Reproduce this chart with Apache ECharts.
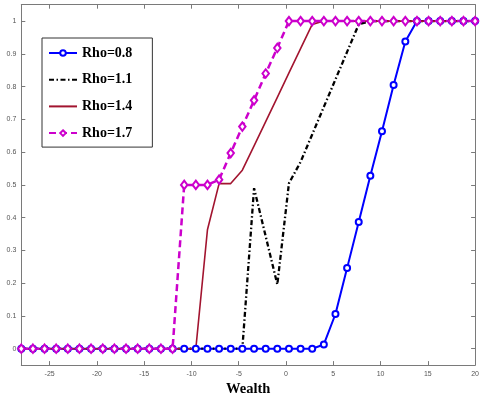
<!DOCTYPE html>
<html>
<head>
<meta charset="utf-8">
<script src="https://cdn.jsdelivr.net/npm/echarts@6/dist/echarts.min.js"></script>
<style>
  html, body { margin: 0; padding: 0; background: #fff; }
  #chart { width: 482px; height: 402px; }
</style>
</head>
<body>
<div id="chart"></div>
<script>
// Wealth grid (40 points from -28 to 20)
const wealth = [
  -28.00, -26.77, -25.54, -24.31, -23.08, -21.85, -20.62, -19.38, -18.15, -16.92,
  -15.69, -14.46, -13.23, -12.00, -10.77, -9.54, -8.31, -7.08, -5.85, -4.62,
  -3.38, -2.15, -0.92, 0.31, 1.54, 2.77, 4.00, 5.23, 6.46, 7.69,
  8.92, 10.15, 11.38, 12.62, 13.85, 15.08, 16.31, 17.54, 18.77, 20.00
];

const rho08 = [
  0, 0, 0, 0, 0, 0, 0, 0, 0, 0,
  0, 0, 0, 0, 0, 0, 0, 0, 0, 0,
  0, 0, 0, 0, 0, 0, 0.013, 0.106, 0.246, 0.387,
  0.528, 0.664, 0.805, 0.938, 1, 1, 1, 1, 1, 1
];

const rho11 = [
  0, 0, 0, 0, 0, 0, 0, 0, 0, 0,
  0, 0, 0, 0, 0, 0, 0, 0, 0, 0,
  0.49, 0.343, 0.196, 0.505, 0.57, 0.654, 0.738, 0.822, 0.906, 0.99,
  1, 1, 1, 1, 1, 1, 1, 1, 1, 1
];

const rho14 = [
  0, 0, 0, 0, 0, 0, 0, 0, 0, 0,
  0, 0, 0, 0, 0, 0, 0.363, 0.504, 0.504, 0.545,
  0.619, 0.693, 0.767, 0.842, 0.916, 0.99, 1, 1, 1, 1,
  1, 1, 1, 1, 1, 1, 1, 1, 1, 1
];

const rho17 = [
  0, 0, 0, 0, 0, 0, 0, 0, 0, 0,
  0, 0, 0, 0, 0.5, 0.5, 0.5, 0.516, 0.597, 0.678,
  0.758, 0.84, 0.918, 1, 1, 1, 1, 1, 1, 1,
  1, 1, 1, 1, 1, 1, 1, 1, 1, 1
];

const seriesNames = ['Rho=0.8', 'Rho=1.1', 'Rho=1.4', 'Rho=1.7'];
const xTicks = [-25, -20, -15, -10, -5, 0, 5, 10, 15, 20];
const yTicks = [0, 0.1, 0.2, 0.3, 0.4, 0.5, 0.6, 0.7, 0.8, 0.9, 1];

const pairs = ys => wealth.map((x, i) => [x, ys[i]]);

const axisGray = '#7a7a7a';
const tickFont = { color: '#555', fontSize: 7, fontFamily: 'Liberation Sans, Arial, sans-serif' };

const chart = echarts.init(document.getElementById('chart'), null, { renderer: 'canvas' });

chart.setOption({
  animation: false,
  backgroundColor: '#fff',
  grid: { left: 21.3, right: 3.2, top: 4.7, bottom: 34.3, containLabel: false },
  xAxis: [
    {
      type: 'value', min: -28, max: 20, position: 'bottom',
      name: 'Wealth', nameLocation: 'middle', nameGap: 14,
      nameTextStyle: { fontFamily: 'Liberation Serif, Times New Roman, serif', fontWeight: 'bold', fontSize: 14.5, color: '#000' },
      axisLine: { show: true, onZero: false, lineStyle: { color: axisGray, width: 1 } },
      axisTick: { show: true, inside: true, length: 4, customValues: xTicks, lineStyle: { color: axisGray } },
      axisLabel: { show: true, margin: 5, customValues: xTicks, ...tickFont },
      splitLine: { show: false }
    },
    {
      type: 'value', min: -28, max: 20, position: 'top',
      axisLine: { show: true, onZero: false, lineStyle: { color: axisGray, width: 1 } },
      axisTick: { show: true, inside: true, length: 4, customValues: xTicks, lineStyle: { color: axisGray } },
      axisLabel: { show: false },
      splitLine: { show: false }
    }
  ],
  yAxis: [
    {
      type: 'value', min: -0.05, max: 1.05, position: 'left',
      axisLine: { show: true, onZero: false, lineStyle: { color: axisGray, width: 1 } },
      axisTick: { show: true, inside: true, length: 4, customValues: yTicks, lineStyle: { color: axisGray } },
      axisLabel: { show: true, margin: 5, customValues: yTicks, ...tickFont },
      splitLine: { show: false }
    },
    {
      type: 'value', min: -0.05, max: 1.05, position: 'right',
      axisLine: { show: true, onZero: false, lineStyle: { color: axisGray, width: 1 } },
      axisTick: { show: true, inside: true, length: 4, customValues: yTicks, lineStyle: { color: axisGray } },
      axisLabel: { show: false },
      splitLine: { show: false }
    }
  ],
  legend: {
    orient: 'vertical',
    left: 42, top: 38,
    padding: [8, 20, 7, 6],
    itemWidth: 28, itemHeight: 7, itemGap: 12.7,
    backgroundColor: '#fff',
    borderColor: '#333', borderWidth: 1,
    textStyle: { fontFamily: 'Liberation Serif, Times New Roman, serif', fontWeight: 'bold', fontSize: 14, lineHeight: 14, color: '#000' },
    data: [
      { name: seriesNames[0] },
      { name: seriesNames[1], itemStyle: { opacity: 0 } },
      { name: seriesNames[2], itemStyle: { opacity: 0 } },
      { name: seriesNames[3] }
    ]
  },
  series: [
    {
      name: seriesNames[0], type: 'line', data: pairs(rho08), clip: false,
      symbol: 'emptyCircle', symbolSize: 6,
      lineStyle: { color: '#0000ff', width: 2 },
      itemStyle: { color: '#0000ff', borderWidth: 1.6 }
    },
    {
      name: seriesNames[1], type: 'line', data: pairs(rho11), clip: false,
      symbol: 'none', showSymbol: false,
      lineStyle: { color: '#000', width: 2.3, type: [5, 2.5, 1.5, 2.5] },
      itemStyle: { color: '#000' }
    },
    {
      name: seriesNames[2], type: 'line', data: pairs(rho14), clip: false,
      symbol: 'none', showSymbol: false,
      lineStyle: { color: '#a2142f', width: 1.6 },
      itemStyle: { color: '#a2142f' }
    },
    {
      name: seriesNames[3], type: 'line', data: pairs(rho17), clip: false,
      symbol: 'emptyDiamond', symbolSize: [6.5, 8.5],
      lineStyle: { color: '#cc00cc', width: 2.5, type: [7, 4] },
      itemStyle: { color: '#cc00cc', borderWidth: 1.6 }
    }
  ]
});
</script>
</body>
</html>
